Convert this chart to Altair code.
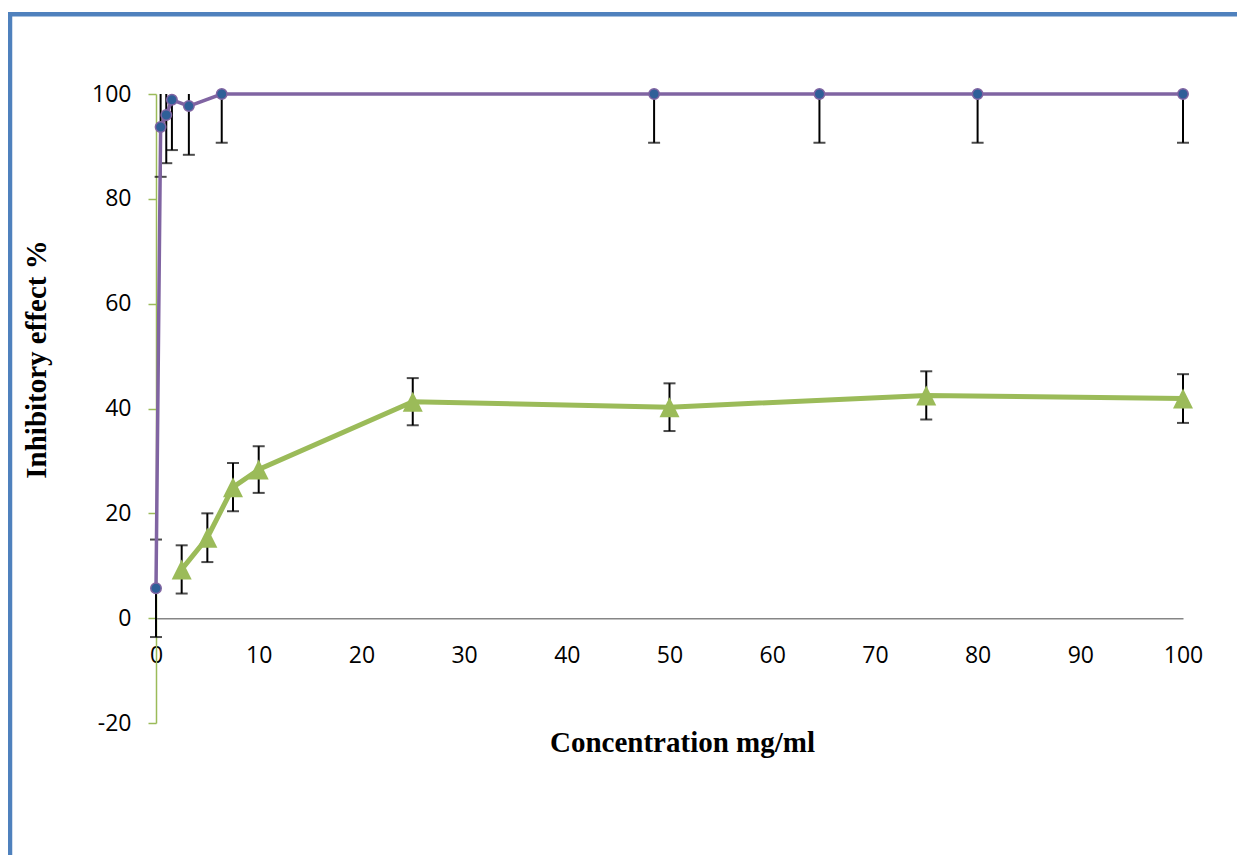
import altair as alt
import pandas as pd

# ---- data ----
purple_x = [0, 0.45, 1.0, 1.55, 3.2, 6.4, 48.5, 64.6, 80.0, 100]
purple_y = [5.7, 93.7, 96.0, 98.9, 97.7, 100, 100, 100, 100, 100]
purple_err = [9.3, 9.5, 9.2, 9.6, 9.3, 9.3, 9.3, 9.3, 9.3, 9.3]

green_x = [2.5, 5, 7.5, 10, 25, 50, 75, 100]
green_y = [9.3, 15.35, 25.0, 28.35, 41.3, 40.25, 42.5, 41.9]
green_err = [4.6, 4.65, 4.6, 4.45, 4.5, 4.55, 4.6, 4.65]

x_ticks = list(range(0, 101, 10))
y_ticks = list(range(-20, 101, 20))
Y_MIN, Y_MAX = -20, 100

# ---- layout ----
W, H = 1027, 629
PURPLE = "#8064a2"
MARKER_BLUE = "#2f5f98"
GREEN = "#9bbb59"
FRAME = "#4f81bd"
AXIS_GRAY = "#868686"
LABEL_FONT = "Open Sans"
TITLE_FONT = "Liberation Serif"

pur = pd.DataFrame({"x": purple_x, "y": purple_y, "err": purple_err})
pur["lo"] = pur["y"] - pur["err"]
pur["hi_raw"] = pur["y"] + pur["err"]
pur["hi"] = pur["hi_raw"].clip(upper=Y_MAX)

grn = pd.DataFrame({"x": green_x, "y": green_y, "err": green_err})
grn["lo"] = grn["y"] - grn["err"]
grn["hi"] = grn["y"] + grn["err"]

bars = pd.concat([pur[["x", "lo", "hi"]], grn[["x", "lo", "hi"]]], ignore_index=True)
caps = pd.concat(
    [
        pd.DataFrame({"x": pur["x"], "v": pur["lo"]}),
        pd.DataFrame({"x": pur["x"][pur["hi_raw"] <= Y_MAX], "v": pur["hi"][pur["hi_raw"] <= Y_MAX]}),
        pd.DataFrame({"x": grn["x"], "v": grn["lo"]}),
        pd.DataFrame({"x": grn["x"], "v": grn["hi"]}),
    ],
    ignore_index=True,
)

x_offset = -H * (0 - Y_MIN) / (Y_MAX - Y_MIN)  # move x axis up to y = 0

x_axis = alt.Axis(
    values=x_ticks,
    offset=x_offset,
    domainColor=AXIS_GRAY,
    domainWidth=1.5,
    ticks=False,
    tickSize=0,
    labelPadding=26,
    labelFlush=False,
    labelFont=LABEL_FONT,
    labelFontSize=23,
    labelColor="black",
    grid=False,
    title="Concentration mg/ml",
    titleFont=TITLE_FONT,
    titleFontSize=29,
    titleFontWeight="bold",
    titleColor="black",
    titleX=526,
    titleY=124,
    titleAlign="center",
    titleBaseline="middle",
)
y_axis = alt.Axis(
    values=y_ticks,
    domainColor=GREEN,
    domainWidth=1.5,
    tickColor=GREEN,
    tickWidth=1.5,
    tickSize=8,
    labelPadding=17,
    labelFlush=False,
    labelFont=LABEL_FONT,
    labelFontSize=23,
    labelColor="black",
    labelExpr="datum.value + ''",
    grid=False,
    title="Inhibitory effect %",
    titleFont=TITLE_FONT,
    titleFontSize=29,
    titleFontWeight="bold",
    titleColor="black",
    titleAngle=270,
    titleX=-120,
    titleY=265,
    titleAlign="center",
    titleBaseline="middle",
)

xs = alt.Scale(domain=[0, 100], nice=False)
ys = alt.Scale(domain=[Y_MIN, Y_MAX], nice=False)


def X(field="x"):
    return alt.X(f"{field}:Q", scale=xs, axis=x_axis, title="Concentration mg/ml")


def Y(field):
    return alt.Y(f"{field}:Q", scale=ys, axis=y_axis, title="Inhibitory effect %")


frame = alt.Chart(alt.Data(values=[{"a": 1}])).mark_rect(
    filled=False, stroke=FRAME, strokeWidth=4.5
).encode(
    x=alt.value(-146), x2=alt.value(W + 200), y=alt.value(-79.7), y2=alt.value(H + 250)
)

err_rules = alt.Chart(bars).mark_rule(color="black", strokeWidth=2).encode(
    x=X(), y=Y("lo"), y2="hi:Q"
)
err_caps = alt.Chart(caps).mark_tick(
    orient="horizontal", color="black", size=12, thickness=2
).encode(x=X(), y=Y("v"))

green_line = alt.Chart(grn).mark_line(color=GREEN, strokeWidth=5).encode(x=X(), y=Y("y"))
green_pts = alt.Chart(grn).mark_point(
    shape="M0,-1L1,1L-1,1Z", filled=True, fill=GREEN, opacity=1, size=400, strokeWidth=0
).encode(x=X(), y=Y("y"))

purple_line = alt.Chart(pur).mark_line(color=PURPLE, strokeWidth=3.5).encode(x=X(), y=Y("y"))
purple_pts = alt.Chart(pur).mark_point(
    shape="circle", filled=True, fill=MARKER_BLUE, stroke=PURPLE, strokeWidth=1.5,
    opacity=1, size=110
).encode(x=X(), y=Y("y"))

chart = (
    alt.layer(frame, err_rules, err_caps, green_line, green_pts, purple_line, purple_pts)
    .properties(
        width=W,
        height=H,
        autosize=alt.AutoSizeParams(type="none"),
        padding={"left": 148, "top": 86, "right": 54, "bottom": 132},
        background="white",
    )
    .configure_view(stroke=None)
)

chart.save("out.html", embed_options={"renderer": "svg", "actions": False})
